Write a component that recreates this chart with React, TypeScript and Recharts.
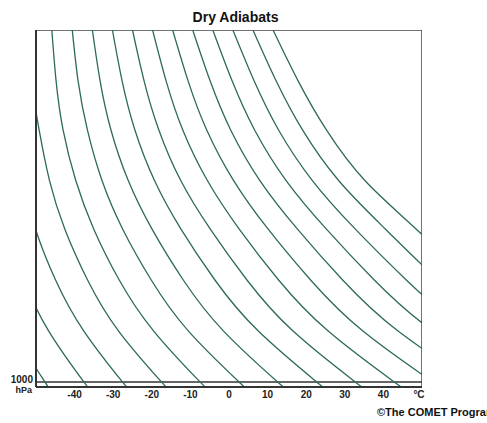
import React from "react";
import { LineChart, Line, XAxis, YAxis, ReferenceLine, ReferenceArea } from "recharts";

// Pressure levels (hPa) at which each dry adiabat's temperature was read
const pressureLevels = [100, 230, 355, 485, 610, 740, 870, 1000, 1030];

// Temperature axis ticks (°C); 50 carries the unit label
const tempTicks = [-40, -30, -20, -10, 0, 10, 20, 30, 40, 50];
const pressureTicks = [1000];

// Temperatures (°C) along each dry adiabat, named by its 1000 hPa temperature
const adiabatM48 = [-66.7, -67.6, -67.7, -67.0, -65.2, -61.4, -55.7, -47.7, -45.6];
const adiabatM38 = [-61.5, -61.9, -61.6, -60.2, -57.6, -53.1, -46.7, -37.6, -35.3];
const adiabatM28 = [-56.3, -56.2, -55.4, -53.3, -50.1, -44.9, -37.6, -27.6, -25.0];
const adiabatM18 = [-53.0, -51.3, -49.2, -46.5, -42.5, -36.6, -28.6, -17.5, -14.7];
const adiabatM8 = [-45.9, -44.8, -43.0, -39.7, -35.0, -28.4, -19.5, -7.5, -4.4];
const adiabatP2 = [-40.6, -39.1, -36.7, -32.9, -27.5, -20.1, -10.5, 2.6, 5.8];
const adiabatP12 = [-35.4, -33.4, -30.6, -26.1, -19.9, -11.8, -1.4, 12.6, 16.1];
const adiabatP22 = [-30.2, -27.7, -24.4, -19.3, -12.4, -3.6, 7.6, 22.7, 26.4];
const adiabatP32 = [-25.0, -22.0, -18.2, -12.5, -4.8, 4.7, 16.6, 32.7, 36.7];
const adiabatP42 = [-19.8, -16.3, -12.0, -5.6, 2.7, 12.9, 25.7, 42.8, 47.0];
const adiabatP52 = [-14.6, -10.6, -5.8, 1.2, 10.2, 21.2, 34.7, 52.8, 57.3];
const adiabatP62 = [-9.4, -4.9, 0.4, 8.0, 17.8, 29.5, 43.8, 62.9, 67.5];
const adiabatP72 = [-4.2, 0.8, 6.6, 14.8, 25.3, 37.7, 52.8, 72.9, 77.8];
const adiabatP82 = [1.0, 6.5, 12.8, 21.6, 32.8, 46.0, 61.8, 83.0, 88.1];
const adiabatP92 = [6.2, 12.2, 19.0, 28.4, 40.6, 54.2, 70.9, 93.0, 98.4];
const adiabatP102 = [11.4, 17.9, 25.2, 35.2, 48.6, 62.5, 79.9, 103.1, 108.7];

const adiabatSeries = [
  adiabatM48, adiabatM38, adiabatM28, adiabatM18, adiabatM8, adiabatP2, adiabatP12, adiabatP22,
  adiabatP32, adiabatP42, adiabatP52, adiabatP62, adiabatP72, adiabatP82, adiabatP92, adiabatP102,
];

const data = pressureLevels.map((p, i) => {
  const row: Record<string, number> = { p };
  adiabatSeries.forEach((s, k) => {
    row[`a${k}`] = s[i];
  });
  return row;
});

const FONT = "'Liberation Sans', Arial, Helvetica, sans-serif";
const LINE_COLOR = "#2c6a5c";

const XTick = (props: any) => {
  const { x, y, payload } = props;
  const isUnit = payload.value === 50;
  return (
    <text
      x={x + (isUnit ? -3 : 0)}
      y={y}
      dy="0.71em"
      textAnchor="middle"
      fontFamily={FONT}
      fontSize={10}
      fontWeight="bold"
      fill="#222"
    >
      {isUnit ? "°C" : payload.value}
    </text>
  );
};

const YTick = (props: any) => {
  const { x, y, payload } = props;
  return (
    <g>
      <text x={x} y={y - 2} dy="0.35em" textAnchor="end" fontFamily={FONT} fontSize={10} fontWeight="bold" fill="#222">
        {payload.value}
      </text>
      <text x={x - 1} y={y + 8} dy="0.35em" textAnchor="end" fontFamily={FONT} fontSize={9} fontWeight="bold" fill="#222">
        hPa
      </text>
    </g>
  );
};

export default function App() {
  return (
    <div style={{ position: "absolute", left: 0, top: 0, width: 487, height: 423, overflow: "hidden", background: "#fff" }}>
      <div
        style={{
          position: "absolute",
          left: 0,
          top: 9,
          width: 471,
          textAlign: "center",
          fontFamily: FONT,
          fontSize: 14,
          fontWeight: "bold",
          color: "#111",
          lineHeight: "16px",
        }}
      >
        Dry Adiabats
      </div>
      <div style={{ position: "absolute", left: 0, top: 0 }}>
        <LineChart
          width={487}
          height={423}
          data={data}
          layout="vertical"
          margin={{ top: 30, right: 65, bottom: 6, left: 6 }}
        >
          <XAxis
            type="number"
            domain={[-50, 50]}
            ticks={tempTicks}
            allowDataOverflow
            height={30}
            axisLine={{ stroke: "#333", strokeWidth: 2 }}
            tickLine={false}
            tickSize={0}
            tickMargin={4}
            tick={<XTick />}
            interval={0}
          />
          <YAxis
            type="number"
            dataKey="p"
            domain={[100, 1013]}
            allowDataOverflow
            ticks={pressureTicks}
            width={30}
            axisLine={{ stroke: "#333", strokeWidth: 2 }}
            tickLine={false}
            tickSize={0}
            tickMargin={3}
            tick={<YTick />}
            interval={0}
          />
          <ReferenceArea x1={-50} x2={50} y1={100} y2={1013} fill="none" stroke="#444" strokeWidth={1.5} ifOverflow="hidden" />
          <ReferenceLine y={1000} stroke="#333" strokeWidth={1.5} />
          {adiabatSeries.map((_, k) => (
            <Line
              key={k}
              dataKey={`a${k}`}
              type="natural"
              stroke={LINE_COLOR}
              strokeWidth={1.3}
              dot={false}
              activeDot={false}
              isAnimationActive={false}
            />
          ))}
        </LineChart>
      </div>
      <div
        style={{
          position: "absolute",
          left: 377,
          top: 406,
          whiteSpace: "nowrap",
          fontFamily: FONT,
          fontSize: 11,
          fontWeight: "bold",
          color: "#111",
          lineHeight: "13px",
        }}
      >
        ©The COMET Program
      </div>
    </div>
  );
}
